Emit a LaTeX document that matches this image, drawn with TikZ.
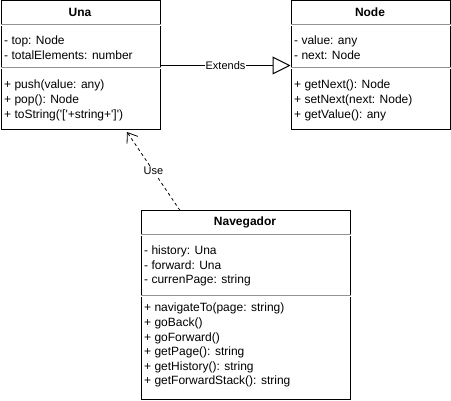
\documentclass[tikz,border=0pt]{standalone}
\usepackage{fontspec}
\setmainfont{Liberation Sans}[Ligatures=TeXOff]
\usetikzlibrary{arrows.meta, positioning}

\begin{document}
\begin{tikzpicture}[x=1pt, y=-1pt]

  \tikzset{
    classbox/.style={
        draw=black,
        line width=1pt,
        fill=white,
        inner sep=0pt,
        anchor=north west
      },
    classname/.style={font=\fontsize{12}{14}\selectfont\bfseries, anchor=base, inner sep=0pt},
    member/.style={font=\fontsize{12}{14}\selectfont, anchor=base west, inner sep=0pt},
    sepline/.style={draw=gray!85, double=white, double distance=0.7pt, line width=0.8pt},
    edgelabel/.style={font=\fontsize{11}{13}\selectfont, fill=white, inner sep=1pt},
    extendsline/.style={line width=1pt, -{Triangle[open, length=18pt, width=18pt, fill=white]}},
    usesline/.style={line width=0.8pt, dash pattern=on 3pt off 3pt, -{Straight Barb[length=9pt, width=13pt, line width=0.8pt]}}
  }

  \useasboundingbox (0,0) rectangle (451,401);

  \node[classbox, minimum width=159pt, minimum height=129pt] (una) at (0.5,0.5) {};
  \node[classname] (unaname) at (80,17) {Una};
  \draw[sepline] (una.west |- 0,25) -- (una.east |- 0,25);
  \node[member] (unatop) at (4,45) {- top: Node};
  \node[member] (unatotal) at (4,60) {- totalElements: number};
  \draw[sepline] (una.west |- 0,68) -- (una.east |- 0,68);
  \node[member] (unapush) at (4,89) {+ push(value: any)};
  \node[member] (unapop) at (4,104) {+ pop(): Node};
  \node[member] (unastring) at (4,119) {+ toString('['+string+']')};

  \node[classbox, minimum width=159pt, minimum height=129pt] (nodecls) at (290.5,0.5) {};
  \node[classname] (nodename) at (370,17) {Node};
  \draw[sepline] (nodecls.west |- 0,25) -- (nodecls.east |- 0,25);
  \node[member] (nodevalue) at (294,45) {- value: any};
  \node[member] (nodenext) at (294,60) {- next: Node};
  \draw[sepline] (nodecls.west |- 0,68) -- (nodecls.east |- 0,68);
  \node[member] (nodegetnext) at (294,89) {+ getNext(): Node};
  \node[member] (nodesetnext) at (294,104) {+ setNext(next: Node)};
  \node[member] (nodegetvalue) at (294,119) {+ getValue(): any};

  \node[classbox, minimum width=209pt, minimum height=189pt] (nav) at (140.5,210.5) {};
  \node[classname] (navname) at (245,226) {Navegador};
  \draw[sepline] (nav.west |- 0,235) -- (nav.east |- 0,235);
  \node[member] (navhistory) at (144,255) {- history: Una};
  \node[member] (navforward) at (144,270) {- forward: Una};
  \node[member] (navpage) at (144,284) {- currenPage: string};
  \draw[sepline] (nav.west |- 0,296) -- (nav.east |- 0,296);
  \node[member] (navto) at (144,312) {+ navigateTo(page: string)};
  \node[member] (navback) at (144,327) {+ goBack()};
  \node[member] (navgofwd) at (144,342) {+ goForward()};
  \node[member] (navgetpage) at (144,356) {+ getPage(): string};
  \node[member] (navgethist) at (144,371) {+ getHistory(): string};
  \node[member] (navgetstack) at (144,385) {+ getForwardStack(): string};

  \coordinate (usefrom) at ([xshift=39.5pt]nav.north west);
  \coordinate (useto) at ([xshift=126.5pt, yshift=-1.5pt]una.south west);

  \draw[extendsline] (una.east) -- node[edgelabel] {Extends} (nodecls.west);
  \draw[usesline] (usefrom) -- node[edgelabel] {Use} (useto);

\end{tikzpicture}
\end{document}
